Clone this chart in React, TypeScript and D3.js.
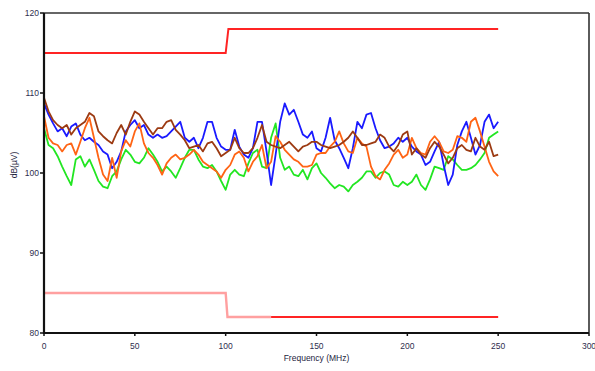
import React from "react";
import * as d3 from "d3";

// frequency grid (MHz), every 2.5 MHz
const freq: number[] = d3.range(0, 250.01, 2.5);

const blue = [
  108.7, 107.3, 106.2, 105.2, 105.6, 104.6, 105.8, 106.2, 104.8, 104.1,
  104.4, 103.9, 103.5, 102.7, 102.3, 100.6, 101.4, 102.7, 105.2, 106.0,
  106.6, 105.6, 106.0, 104.8, 104.4, 104.8, 104.4, 104.6, 105.2, 105.8,
  106.4, 104.4, 103.9, 104.4, 103.1, 104.4, 106.4, 106.4, 104.4, 103.3,
  102.9, 102.9, 105.4, 103.3, 102.3, 101.9, 103.1, 106.4, 106.4, 102.7,
  98.5, 102.3, 106.4, 108.7, 107.3, 107.9, 106.4, 104.8, 104.4, 105.2,
  103.1, 102.7, 104.4, 106.9, 104.1, 103.1, 101.9, 100.6, 103.1, 106.4,
  105.6, 107.3, 107.5, 105.6, 104.1, 103.1, 103.3, 103.7, 104.4, 103.9,
  104.4, 103.3, 102.7, 102.3, 101.0, 101.4, 102.7, 103.9, 101.0, 98.5,
  99.8, 103.5, 105.2, 106.4, 104.4, 102.3, 103.5, 106.4, 107.3, 105.6,
  106.4,
];

const brown = [
  109.4, 107.7, 106.6, 106.0, 105.6, 106.0, 104.8, 105.6, 106.0, 106.4,
  107.5, 107.1, 105.2, 104.6, 104.1, 103.7, 105.0, 106.0, 104.8, 106.4,
  107.7, 107.3, 106.4, 105.6, 104.8, 105.6, 105.6, 106.4, 106.6, 105.4,
  104.8, 104.1, 103.1, 103.3, 103.5, 102.7, 103.7, 103.9, 103.1, 102.1,
  102.5, 102.9, 104.4, 103.1, 102.5, 102.5, 103.1, 104.4, 106.0, 103.9,
  103.5, 103.3, 103.1, 103.5, 103.9, 103.3, 102.7, 103.3, 103.5, 103.9,
  103.9, 103.5, 103.3, 103.1, 103.3, 103.5, 103.9, 104.4, 105.2, 104.4,
  103.5, 103.5, 103.7, 103.9, 104.8, 104.4, 103.3, 102.7, 103.5, 104.8,
  105.2, 102.3, 103.1, 102.3, 101.9, 103.1, 103.9, 103.3, 102.3, 101.2,
  101.9, 103.1, 103.5, 102.9, 102.7, 104.4, 103.3, 102.9, 103.9, 102.1,
  102.3,
];

const orange = [
  107.1, 104.4, 103.7, 103.5, 102.7, 103.5, 103.7, 102.3, 103.9, 105.6,
  106.9, 104.4, 101.9, 99.8, 99.0, 101.9, 99.4, 102.7, 104.1, 103.3,
  105.2, 106.2, 103.7, 102.5, 101.9, 101.0, 99.8, 101.2, 101.9, 102.3,
  101.7, 101.9, 102.3, 102.9, 102.3, 101.4, 101.0, 100.6, 100.2, 99.4,
  100.4, 101.0, 102.3, 102.7, 101.9, 100.2, 101.4, 102.1, 103.5, 100.6,
  101.4, 104.6, 103.9, 102.9, 102.3, 101.7, 101.4, 100.8, 100.8, 101.0,
  102.3, 102.5, 102.5, 103.3, 103.9, 105.2, 103.7, 102.7, 102.5, 104.4,
  103.7, 103.3, 100.8, 99.6, 99.2, 100.4, 101.2, 102.3, 102.9, 101.9,
  102.3, 104.4, 103.1, 102.5, 102.3, 103.9, 104.6, 103.9, 102.7, 102.5,
  102.9, 104.6, 104.4, 103.9, 106.4, 106.9, 105.2, 103.3, 101.4, 100.2,
  99.6,
];

const green = [
  105.6, 103.5, 103.1, 102.1, 100.8, 99.6, 98.5, 101.7, 102.1, 100.8,
  101.7, 100.4, 99.0, 98.3, 98.1, 99.6, 100.2, 101.7, 102.9, 102.3,
  101.4, 101.2, 101.9, 103.1, 102.3, 101.4, 100.2, 100.8, 100.2, 99.4,
  100.6, 101.9, 102.9, 102.9, 101.7, 100.8, 100.6, 101.0, 100.2, 99.0,
  97.9, 99.8, 100.4, 99.8, 99.6, 101.2, 102.5, 102.9, 100.8, 100.6,
  104.4, 106.2, 101.9, 100.4, 100.8, 99.8, 99.6, 100.4, 99.2, 100.6,
  101.2, 100.0, 99.4, 98.7, 98.1, 98.5, 98.3, 97.7, 98.5, 98.9,
  99.4, 100.2, 100.2, 99.4, 100.0, 100.2, 99.8, 98.5, 98.3, 98.9,
  98.5, 98.9, 99.8, 98.5, 97.9, 99.2, 100.8, 100.6, 100.4, 102.1,
  101.7, 101.0, 100.4, 100.4, 100.6, 101.0, 101.7, 102.5, 104.4, 104.8,
  105.2,
];

// limit lines: [MHz, dB]
const upperLimit: [number, number][] = [
  [0, 115], [100, 115], [101.5, 118], [250, 118],
];
const lowerLimitA: [number, number][] = [
  [0, 85], [100, 85], [101, 82], [125, 82],
];
const lowerLimitB: [number, number][] = [
  [125, 82], [250, 82],
];

const xTicks = [0, 50, 100, 150, 200, 250, 300];
const yTicks = [80, 90, 100, 110, 120];

const series = [
  { name: "green", color: "#22e622", values: green },
  { name: "blue", color: "#1a1aff", values: blue },
  { name: "orange", color: "#ff6414", values: orange },
  { name: "brown", color: "#9c3a12", values: brown },
];

const W = 595;
const H = 371;
const m = { left: 44, right: 6, top: 13, bottom: 38 };

export default function App() {
  const x = d3.scaleLinear().domain([0, 300]).range([m.left, W - m.right]);
  const y = d3.scaleLinear().domain([80, 120]).range([H - m.bottom, m.top]);

  const line = d3
    .line<number>()
    .x((_, i) => x(freq[i]))
    .y((d) => y(d));

  const limLine = d3
    .line<[number, number]>()
    .x((d) => x(d[0]))
    .y((d) => y(d[1]));

  const x0 = x(0);
  const x1 = x(300);
  const y0 = y(80);
  const y1 = y(120);

  return (
    <svg
      width={W}
      height={H}
      style={{ position: "absolute", left: 0, top: 0, background: "#fff" }}
      fontFamily="Liberation Sans, Arial, sans-serif"
    >
      {/* frame */}
      <line x1={x0} x2={x1} y1={y1} y2={y1} stroke="#333" strokeWidth={1.6} />
      <line x1={x1} x2={x1} y1={y1} y2={y0} stroke="#333" strokeWidth={1.6} />

      {/* limit lines */}
      <path d={limLine(upperLimit) || ""} fill="none" stroke="#ff2424" strokeWidth={2} />
      <path d={limLine(lowerLimitA) || ""} fill="none" stroke="#ffa0a0" strokeWidth={2.4} />
      <path d={limLine(lowerLimitB) || ""} fill="none" stroke="#ff2424" strokeWidth={2} />

      {/* series */}
      {series.map((s) => (
        <path
          key={s.name}
          d={line(s.values) || ""}
          fill="none"
          stroke={s.color}
          strokeWidth={1.8}
          strokeLinejoin="round"
        />
      ))}

      {/* axes */}
      <line x1={x0} x2={x0} y1={y1} y2={y0 + 1} stroke="#111" strokeWidth={2.2} />
      <line x1={x0 - 1} x2={x1} y1={y0} y2={y0} stroke="#111" strokeWidth={2.2} />

      {yTicks.map((t) => (
        <g key={"y" + t}>
          <line x1={x0 - 4} x2={x0} y1={y(t)} y2={y(t)} stroke="#111" strokeWidth={1.5} />
          <text
            x={x0 - 5}
            y={y(t)}
            dy="0.35em"
            textAnchor="end"
            fontSize={8.5}
            fill="#2e2e4e"
          >
            {t}
          </text>
        </g>
      ))}

      {xTicks.map((t) => (
        <g key={"x" + t}>
          <line x1={x(t)} x2={x(t)} y1={y0} y2={y0 + 3} stroke="#111" strokeWidth={1.5} />
          <text
            x={x(t)}
            y={y0 + 16}
            textAnchor="middle"
            fontSize={8.5}
            fill="#2e2e4e"
          >
            {t}
          </text>
        </g>
      ))}

      <text
        x={x(150)}
        y={y0 + 28}
        textAnchor="middle"
        fontSize={8.5}
        fill="#1e1e3e"
      >
        Frequency (MHz)
      </text>
      <text
        transform={`translate(${17},${y(101)}) rotate(-90)`}
        textAnchor="middle"
        fontSize={8.5}
        fill="#1e1e3e"
      >
        dB(µV)
      </text>
    </svg>
  );
}
